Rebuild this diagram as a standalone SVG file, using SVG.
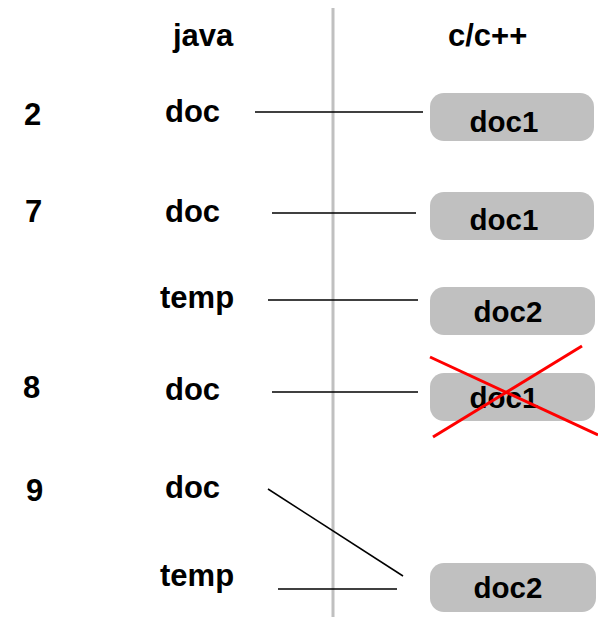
<svg xmlns="http://www.w3.org/2000/svg" width="598" height="617" viewBox="0 0 598 617">
<style>
text{font-family:"Liberation Sans",Arial,sans-serif;font-weight:bold;fill:#000}
.lbl{font-size:31px}
.box rect{fill:#c0c0c0}
.box text{font-size:29.5px;text-anchor:middle}
.conn line{stroke:#000;stroke-width:1.5}
.cross line{stroke:#ff0000;stroke-width:3}
</style>
<rect width="598" height="617" fill="#fff"/>
<line id="divider" x1="333" y1="8" x2="333" y2="617" stroke="#c0c0c0" stroke-width="3"/>
<g id="headers" class="lbl">
<text x="173" y="46">java</text>
<text x="448" y="46">c/c++</text>
</g>
<g id="steps" class="lbl">
<text x="24" y="125">2</text>
<text x="25" y="222">7</text>
<text x="23" y="398">8</text>
<text x="26" y="501">9</text>
</g>
<g id="java-vars" class="lbl">
<text x="165" y="122">doc</text>
<text x="165" y="222">doc</text>
<text x="160" y="308">temp</text>
<text x="165" y="400">doc</text>
<text x="165" y="498">doc</text>
<text x="160" y="586">temp</text>
</g>
<g id="obj1" class="box"><rect x="430" y="93" width="164" height="48" rx="14"/><text x="504" y="132">doc1</text></g>
<g id="obj2" class="box"><rect x="430" y="192" width="164" height="48" rx="14"/><text x="504" y="230">doc1</text></g>
<g id="obj3" class="box"><rect x="430" y="287" width="165" height="48" rx="14"/><text x="508" y="322">doc2</text></g>
<g id="obj4" class="box"><rect x="430" y="373" width="165" height="48" rx="14"/><text x="504" y="408">doc1</text></g>
<g id="obj5" class="box"><rect x="430" y="563" width="166" height="49" rx="14"/><text x="508" y="598">doc2</text></g>
<g id="connectors" class="conn">
<line x1="255" y1="112" x2="423" y2="112"/>
<line x1="272" y1="213" x2="416" y2="213"/>
<line x1="268" y1="300" x2="418" y2="300"/>
<line x1="272" y1="392" x2="418" y2="392"/>
<line x1="268" y1="489" x2="403" y2="576"/>
<line x1="278" y1="589" x2="397" y2="589"/>
</g>
<g id="cross" class="cross">
<line x1="430" y1="357" x2="598" y2="435"/>
<line x1="433" y1="437" x2="582" y2="346"/>
</g>
</svg>
